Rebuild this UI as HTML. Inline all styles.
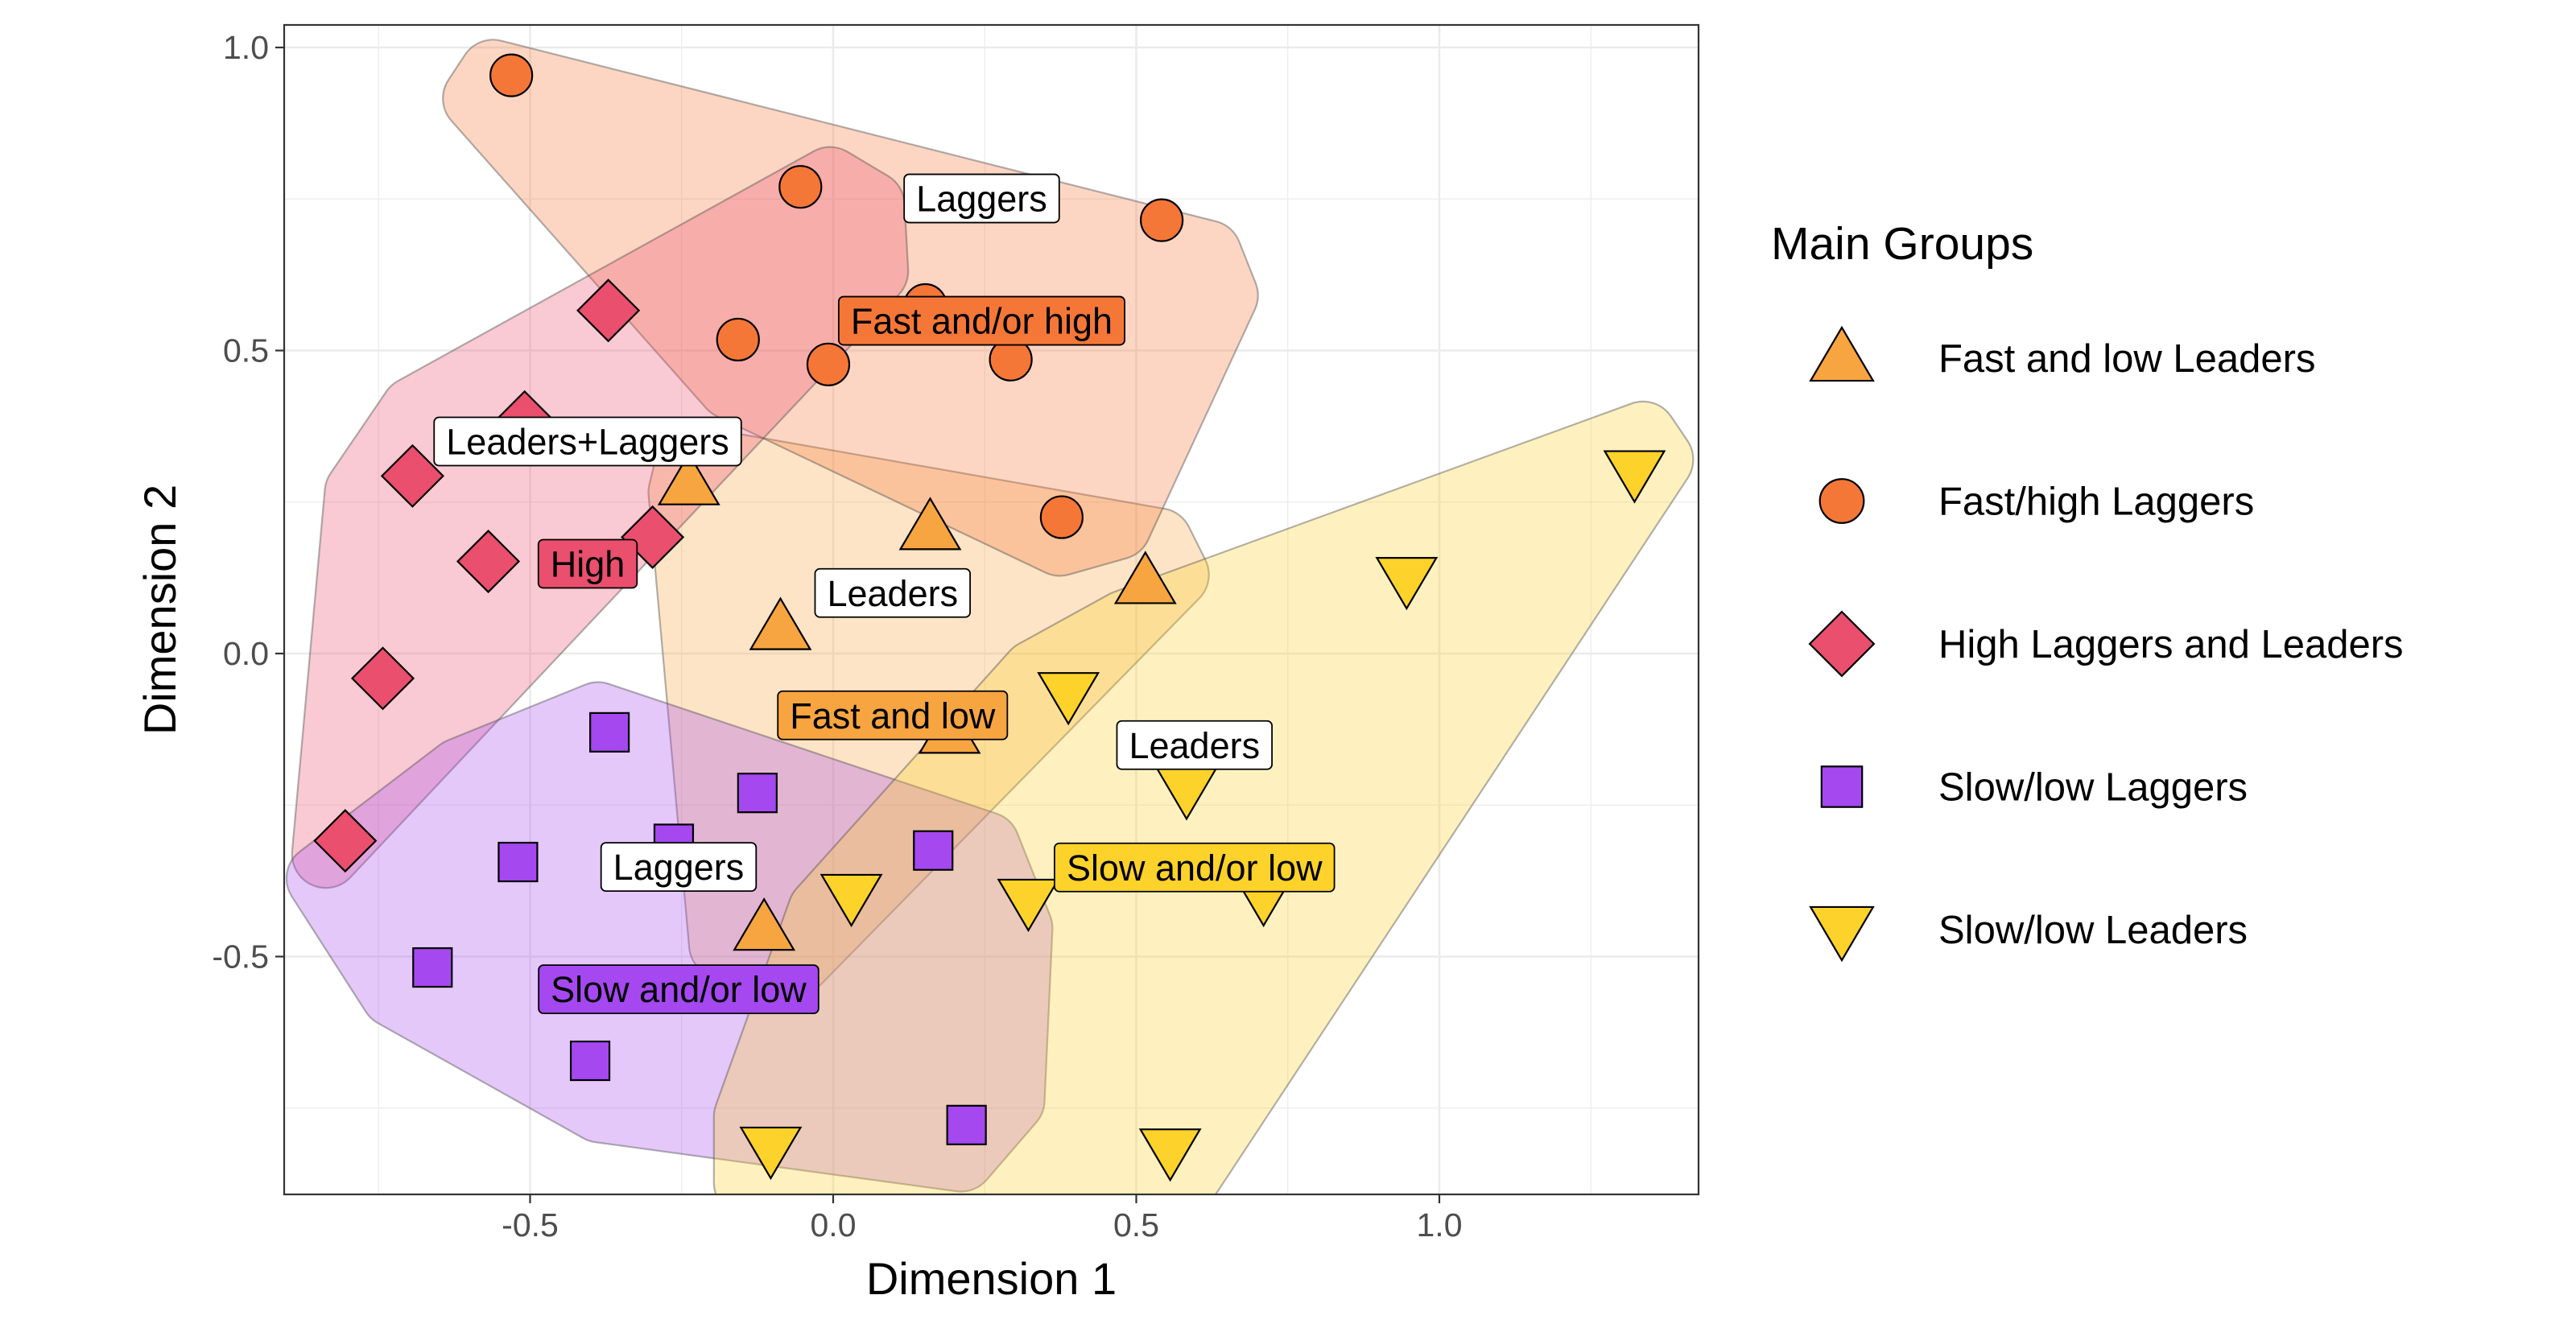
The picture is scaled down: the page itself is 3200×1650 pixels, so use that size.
<!DOCTYPE html>
<html><head><meta charset="utf-8"><style>
html,body{margin:0;padding:0;background:#fff;}
svg{display:block;font-family:"Liberation Sans",Arial,sans-serif;}
</style></head><body>
<svg id="chart" width="3200" height="1650" viewBox="0 0 3200 1650">
<g id="grid"></g>
<g id="hulls"></g>
<g id="points"></g>
<g id="labels"></g>
<g id="axes"></g>
<g id="legend"></g>
</svg>
<script>
const groupNames = ["Fast and low Leaders","Fast/high Laggers","High Laggers and Leaders","Slow/low Laggers","Slow/low Leaders"];
const groupColors = ["#F7A541","#F57738","#EA4F6E","#A548F0","#FDD22A"];
const groupShapes = ["triUp","circle","diamond","square","triDown"];
const xFastLow = [-0.238,0.16,0.515,-0.087,0.192,-0.114];
const yFastLow = [0.274,0.20,0.111,0.035,-0.136,-0.461];
const xFastHigh = [-0.531,-0.054,0.542,0.152,-0.157,-0.008,0.293,0.377];
const yFastHigh = [0.954,0.770,0.715,0.575,0.518,0.477,0.485,0.225];
const xHigh = [-0.371,-0.509,-0.694,-0.298,-0.569,-0.743,-0.805];
const yHigh = [0.566,0.382,0.293,0.192,0.152,-0.041,-0.309];
const xSlowLag = [-0.369,-0.125,-0.263,-0.520,0.165,-0.661,-0.401,0.220];
const ySlowLag = [-0.130,-0.230,-0.314,-0.344,-0.325,-0.518,-0.672,-0.778];
const xSlowLead = [1.322,0.946,0.388,0.583,0.030,0.322,0.710,-0.103,0.556];
const ySlowLead = [0.306,0.130,-0.060,-0.217,-0.393,-0.401,-0.393,-0.810,-0.813];
const groupX = [xFastLow,xFastHigh,xHigh,xSlowLag,xSlowLead];
const groupY = [yFastLow,yFastHigh,yHigh,ySlowLag,ySlowLead];
// hull outline anchors (data units)
const hullXFastLow = [-0.236,0.537,0.564,-0.060,-0.182,-0.249];
const hullYFastLow = [0.320,0.184,0.130,-0.507,-0.480,0.266];
const hullXFastHigh = [-0.561,0.618,0.645,0.469,0.374,-0.168,-0.588];
const hullYFastHigh = [0.957,0.659,0.591,0.211,0.184,0.442,0.916];
const hullXHigh = [-0.837,-0.783,-0.691,-0.005,0.062,0.068,-0.615];
const hullYHigh = [-0.331,0.266,0.401,0.780,0.740,0.631,-0.087];
const hullXSlowLag = [-0.846,-0.615,-0.388,0.252,0.306,0.293,0.211,-0.385,-0.724];
const hullYSlowLag = [-0.371,-0.195,-0.103,-0.317,-0.453,-0.737,-0.832,-0.751,-0.561];
const hullXSlowLead = [1.336,1.363,0.577,-0.141,-0.141,-0.019,0.333,0.482];
const hullYSlowLead = [0.360,0.320,-0.873,-0.873,-0.764,-0.425,-0.033,0.049];
const hullX = [hullXFastLow,hullXFastHigh,hullXHigh,hullXSlowLag,hullXSlowLead];
const hullY = [hullYFastLow,hullYFastHigh,hullYHigh,hullYSlowLag,hullYSlowLead];
const labelTop = ["Leaders","Laggers","Leaders+Laggers","Laggers","Leaders"];
const labelBottom = ["Fast and low","Fast and/or high","High","Slow and/or low","Slow and/or low"];
const labelX = [0.098,0.245,-0.405,-0.255,0.596];
const labelY = [-0.001,0.650,0.249,-0.453,-0.252];
const xTicks = [-0.5,0,0.5,1.0];
const xTickLabels = ["-0.5","0.0","0.5","1.0"];
const yTicks = [-0.5,0,0.5,1.0];
const yTickLabels = ["-0.5","0.0","0.5","1.0"];
const xMinor = [-0.75,-0.25,0.25,0.75,1.25];
const yMinor = [-0.75,-0.25,0.25,0.75];

const P = {l:353,r:2110,t:31,b:1484};
const X0 = 1035, Y0 = 812, S = 753;
const sx = v => X0 + v*S;
const sy = v => Y0 - v*S;
const NS = "http://www.w3.org/2000/svg";
function mk(tag, attrs, parent){ const e=document.createElementNS(NS,tag); for(const k in attrs) e.setAttribute(k,attrs[k]); parent.appendChild(e); return e; }

const grid = document.getElementById('grid');
xMinor.forEach(v=>{ const l=mk('line',{x1:sx(v),x2:sx(v),y1:P.t,y2:P.b,stroke:'#ebebeb','stroke-width':1.2},grid);

 });
yMinor.forEach(v=>{ const l=mk('line',{x1:P.l,x2:P.r,y1:sy(v),y2:sy(v),stroke:'#ebebeb','stroke-width':1.2},grid);

 });
xTicks.forEach(v=>{ const l=mk('line',{x1:sx(v),x2:sx(v),y1:P.t,y2:P.b,stroke:'#ebebeb','stroke-width':2.6},grid);

 });
yTicks.forEach(v=>{ const l=mk('line',{x1:P.l,x2:P.r,y1:sy(v),y2:sy(v),stroke:'#ebebeb','stroke-width':2.6},grid);

 });

const hullsG = document.getElementById('hulls');
const clip = mk('clipPath',{id:'pclip'},mk('defs',{},document.getElementById('chart')));
mk('rect',{x:P.l,y:P.t,width:P.r-P.l,height:P.b-P.t},clip);
hullsG.setAttribute('clip-path','url(#pclip)');
function convexHull(pts){
  pts = pts.slice().sort((a,b)=>a[0]-b[0]||a[1]-b[1]);
  const cr=(o,a,b)=>(a[0]-o[0])*(b[1]-o[1])-(a[1]-o[1])*(b[0]-o[0]);
  const lo=[],up=[];
  for(const p of pts){ while(lo.length>=2&&cr(lo[lo.length-2],lo[lo.length-1],p)<=0) lo.pop(); lo.push(p); }
  for(let i=pts.length-1;i>=0;i--){ const p=pts[i]; while(up.length>=2&&cr(up[up.length-2],up[up.length-1],p)<=0) up.pop(); up.push(p); }
  up.pop(); lo.pop(); return lo.concat(up);
}
const R = 42;
hullX.forEach((xs,gi)=>{
  const pts = xs.map((x,i)=>[sx(x),sy(hullY[gi][i])]);
  const h = convexHull(pts);
  const cx = h.reduce((s,p)=>s+p[0],0)/h.length, cy = h.reduce((s,p)=>s+p[1],0)/h.length;
  const n = h.length, off = [];
  for(let i=0;i<n;i++){
    const a=h[i], b=h[(i+1)%n];
    let dx=b[0]-a[0], dy=b[1]-a[1]; const L=Math.hypot(dx,dy)||1;
    let nx=-dy/L, ny=dx/L;
    if(nx*((a[0]+b[0])/2-cx)+ny*((a[1]+b[1])/2-cy)<0){nx=-nx;ny=-ny;}
    off.push([[a[0]+nx*R,a[1]+ny*R],[b[0]+nx*R,b[1]+ny*R]]);
  }
  let d = `M${off[0][0][0]},${off[0][0][1]} L${off[0][1][0]},${off[0][1][1]}`;
  for(let i=1;i<=n;i++){
    const e = off[i%n], v = h[i%n], A = off[i-1][1], B = e[0];
    const c = (A[0]-v[0])*(B[1]-v[1])-(A[1]-v[1])*(B[0]-v[0]);
    d += ` A${R},${R} 0 0 ${c>0?1:0} ${B[0]},${B[1]}`;
    if(i<n) d += ` L${e[1][0]},${e[1][1]}`;
  }
  d += 'Z';
  const p = mk('path',{d:d,fill:groupColors[gi],'fill-opacity':0.3,stroke:'#555','stroke-opacity':0.45,'stroke-width':2.2},hullsG);
  
  
});

function marker(shape,x,y,color,parent,sc){
  sc = sc||1; let e;
  if(shape==='circle') e=mk('circle',{cx:x,cy:y,r:26*sc},parent);
  else if(shape==='square') e=mk('rect',{x:x-24*sc,y:y-24*sc,width:48*sc,height:48*sc},parent);
  else if(shape==='diamond'){ const s=38*sc; e=mk('polygon',{points:`${x},${y-s} ${x+s},${y} ${x},${y+s} ${x-s},${y}`},parent); }
  else if(shape==='triUp'){ e=mk('polygon',{points:`${x},${y-42*sc} ${x+37*sc},${y+21*sc} ${x-37*sc},${y+21*sc}`},parent); }
  else { e=mk('polygon',{points:`${x},${y+42*sc} ${x+37*sc},${y-21*sc} ${x-37*sc},${y-21*sc}`},parent); }
  e.setAttribute('fill',color); e.setAttribute('stroke','#000'); e.setAttribute('stroke-width',2.2);
  return e;
}
const ptsG = document.getElementById('points');
groupX.forEach((xs,gi)=>{
  xs.forEach((x,i)=>{
    const e = marker(groupShapes[gi],sx(x),sy(groupY[gi][i]),groupColors[gi],ptsG);
    
    
  });
});

const labG = document.getElementById('labels');
function labelBox(text,cx,cy,fill,fc){
  const g = mk('g',{},labG);
  const t = mk('text',{x:cx,y:cy+16,'text-anchor':'middle','font-size':45,fill:fc},g);
  t.textContent = text;
  const w = t.getComputedTextLength()+30;
  const r = mk('rect',{x:cx-w/2,y:cy-30,width:w,height:60,rx:6,fill:fill,stroke:'#000','stroke-width':1.8},g);
  g.insertBefore(r,t);
  return g;
}
labelTop.forEach((s,gi)=>{
  const cx = sx(labelX[gi]), cy = sy(labelY[gi]);
  const a = labelBox(s,cx,cy-76,'#fff','#000');
  
  
  const b = labelBox(labelBottom[gi],cx,cy+76,groupColors[gi],'#000');
  
  
});

const ax = document.getElementById('axes');
const border = mk('rect',{x:P.l,y:P.t,width:P.r-P.l,height:P.b-P.t,fill:'none',stroke:'#333','stroke-width':2.2},ax);


xTicks.forEach((v,i)=>{
  mk('line',{x1:sx(v),x2:sx(v),y1:P.b,y2:P.b+11,stroke:'#333','stroke-width':2.2},ax);
  const t = mk('text',{x:sx(v),y:P.b+52,'text-anchor':'middle','font-size':41,fill:'#4d4d4d'},ax);
  t.textContent = xTickLabels[i];
  
  
});
yTicks.forEach((v,i)=>{
  mk('line',{x1:P.l-11,x2:P.l,y1:sy(v),y2:sy(v),stroke:'#333','stroke-width':2.2},ax);
  const t = mk('text',{x:P.l-19,y:sy(v)+14,'text-anchor':'end','font-size':41,fill:'#4d4d4d'},ax);
  t.textContent = yTickLabels[i];
  
  
});
const xt = mk('text',{x:(P.l+P.r)/2,y:1608,'text-anchor':'middle','font-size':56,fill:'#000'},ax);
xt.textContent = 'Dimension 1';


const yt = mk('text',{x:0,y:0,'text-anchor':'middle','font-size':56,fill:'#000',transform:`translate(218,${(P.t+P.b)/2}) rotate(-90)`},ax);
yt.textContent = 'Dimension 2';



const lg = document.getElementById('legend');
const lt = mk('text',{x:2200,y:322,'font-size':57,fill:'#000'},lg);
lt.textContent = 'Main Groups';


groupNames.forEach((nm,gi)=>{
  const y = 445 + gi*177.5;
  const g = mk('g',{},lg);
  
  
  marker(groupShapes[gi],2288,y+(gi===0?6:gi===4?-6:0),groupColors[gi],g,1.05);
  const t = mk('text',{x:2408,y:y+17,'font-size':49,fill:'#000'},g);
  t.textContent = nm;
});
</script>
</body></html>
